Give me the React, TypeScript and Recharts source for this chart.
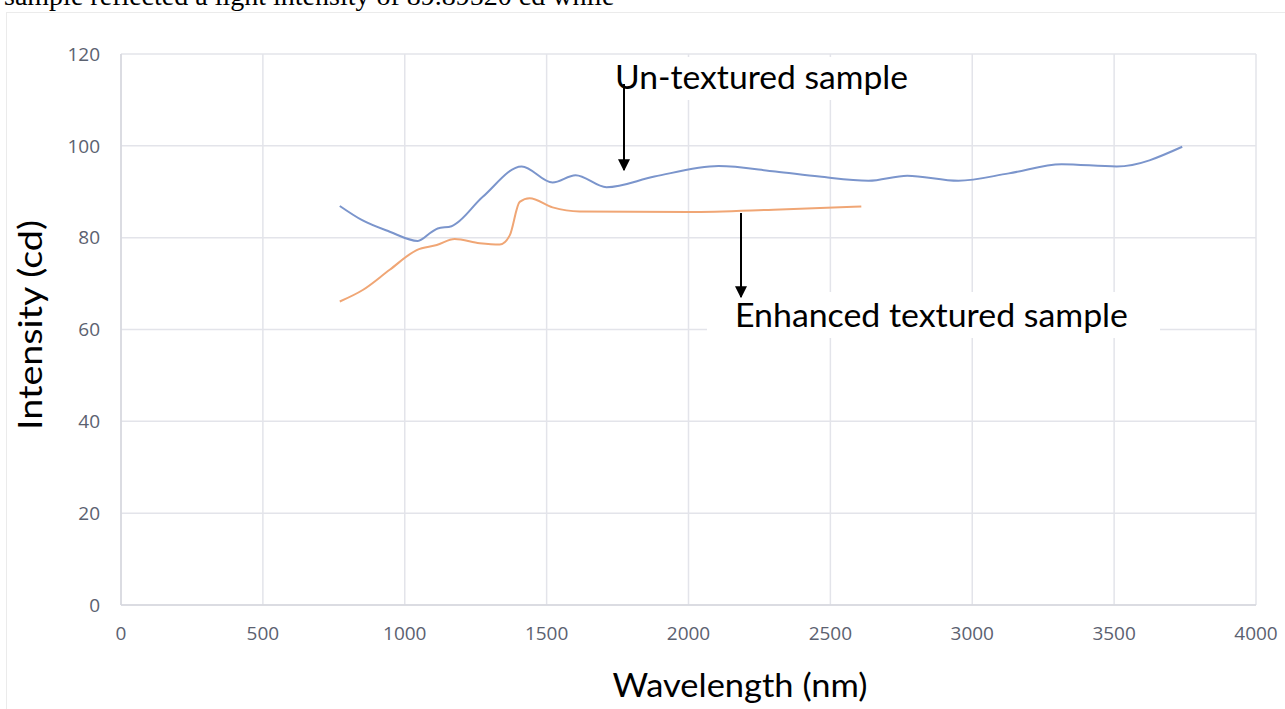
import { LineChart, Line, XAxis, YAxis, CartesianGrid } from "recharts";

// wavelength (nm) / intensity (cd)
const untexturedX = [771, 850, 947, 1046, 1094, 1116, 1165, 1275, 1412, 1521, 1602, 1711, 1880, 2106, 2306, 2461, 2634, 2771, 2951, 3129, 3315, 3509, 3740];
const untexturedY = [86.9, 83.8, 81.3, 79.3, 81.2, 82.0, 82.5, 88.9, 95.5, 92.0, 93.6, 91.0, 93.3, 95.6, 94.4, 93.3, 92.4, 93.5, 92.4, 94.0, 96.0, 95.5, 99.8];

const enhancedX = [771, 852, 947, 1042, 1113, 1176, 1264, 1335, 1370, 1405, 1440, 1521, 1616, 2000, 2300, 2609];
const enhancedY = [66.1, 68.6, 73.0, 77.3, 78.4, 79.7, 78.8, 78.5, 80.5, 87.8, 88.6, 86.6, 85.7, 85.6, 86.1, 86.8];

const xTicks = [0, 500, 1000, 1500, 2000, 2500, 3000, 3500, 4000];
const yTicks = [0, 20, 40, 60, 80, 100, 120];

const untextured = untexturedX.map((x, i) => ({ x, y: untexturedY[i] }));
const enhanced = enhancedX.map((x, i) => ({ x, y: enhancedY[i] }));

const tickStyle = { fontFamily: "Open Sans", fontSize: 19, fill: "#5b6170" };
const titleFont = "Lato";

export default function App() {
  return (
    <div style={{ position: "absolute", left: 0, top: 0, width: 1285, height: 709, overflow: "hidden", background: "#fff" }}>
      {/* cut-off caption text from the page above */}
      <div
        style={{
          position: "absolute",
          left: 4,
          top: -18,
          fontFamily: "Liberation Serif",
          fontSize: 28,
          lineHeight: "28px",
          whiteSpace: "nowrap",
          color: "#000",
        }}
      >
        sample reflected a light intensity of 89.89520 cd while
      </div>

      {/* chart frame */}
      <div
        style={{
          position: "absolute",
          left: 6,
          top: 12,
          width: 1300,
          height: 720,
          border: "1.5px solid #ebebeb",
        }}
      />

      <div style={{ position: "absolute", left: 0, top: 0 }}>
        <LineChart width={1285} height={709} margin={{ top: 54, right: 29, bottom: 64, left: 61 }}>
          <CartesianGrid stroke="#e3e4ea" strokeWidth={1.5} />
          <XAxis
            dataKey="x"
            type="number"
            domain={[0, 4000]}
            ticks={xTicks}
            height={40}
            tickLine={false}
            tickMargin={16}
            axisLine={{ stroke: "#d6d7de", strokeWidth: 1.5 }}
            tick={tickStyle}
          />
          <YAxis
            type="number"
            domain={[0, 120]}
            ticks={yTicks}
            width={60}
            tickLine={false}
            tickMargin={15}
            axisLine={{ stroke: "#d6d7de", strokeWidth: 1.5 }}
            tick={tickStyle}
          />
          <Line
            data={untextured}
            dataKey="y"
            type="monotone"
            stroke="#7b95cc"
            strokeWidth={2}
            dot={false}
            isAnimationActive={false}
          />
          <Line
            data={enhanced}
            dataKey="y"
            type="monotone"
            stroke="#f0a675"
            strokeWidth={2}
            dot={false}
            isAnimationActive={false}
          />
        </LineChart>
      </div>

      {/* titles and annotations */}
      <svg width={1285} height={709} style={{ position: "absolute", left: 0, top: 0, pointerEvents: "none" }}>
        <defs>
          <marker id="head" viewBox="0 0 10 10" refX="9" refY="5" markerWidth="6" markerHeight="6" orient="auto">
            <path d="M0,0 L10,5 L0,10 z" fill="#000" />
          </marker>
        </defs>

        <rect x={600} y={57} width={340} height={43} fill="#fff" />
        <rect x={707} y={292} width={453} height={46} fill="#fff" />

        <text x={615} y={89} fontFamily={titleFont} fontSize={32} fill="#000" textLength={293} lengthAdjust="spacingAndGlyphs">
          Un-textured sample
        </text>
        <line x1={624} y1={84} x2={624} y2={170} stroke="#000" strokeWidth={2} markerEnd="url(#head)" />

        <text x={735} y={327} fontFamily={titleFont} fontSize={32} fill="#000" textLength={393} lengthAdjust="spacingAndGlyphs">
          Enhanced textured sample
        </text>
        <line x1={741} y1={213} x2={741} y2={297} stroke="#000" strokeWidth={2} markerEnd="url(#head)" />

        <text
          x={42}
          y={325}
          transform="rotate(-90 42 325)"
          textAnchor="middle"
          fontFamily={titleFont}
          fontSize={32}
          fill="#000"
          textLength={210}
          lengthAdjust="spacingAndGlyphs"
        >
          Intensity (cd)
        </text>
        <text x={740} y={697} textAnchor="middle" fontFamily={titleFont} fontSize={32} fill="#000" textLength={255} lengthAdjust="spacingAndGlyphs">
          Wavelength (nm)
        </text>
      </svg>
    </div>
  );
}
